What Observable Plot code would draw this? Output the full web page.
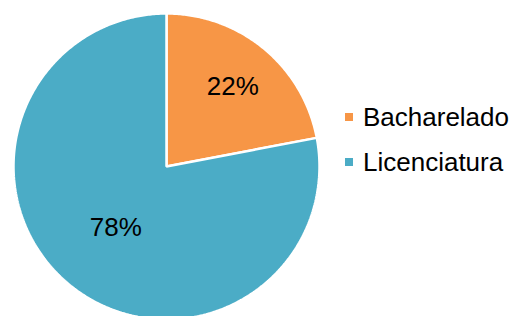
<!DOCTYPE html>
<html>
<head>
<meta charset="utf-8">
<script src="https://cdn.jsdelivr.net/npm/d3@7"></script>
<script src="https://cdn.jsdelivr.net/npm/@observablehq/plot@0.6"></script>
<style>
  html, body { margin: 0; padding: 0; background: #fff; }
  #wrap { position: relative; width: 512px; height: 316px; overflow: hidden; font-family: "Liberation Sans", Arial, sans-serif; }
  #wrap svg { position: absolute; left: 0; top: 0; }
  #legend { position: absolute; left: 345px; top: 94.5px; font-size: 26px; line-height: 45px; color: #000; white-space: nowrap; }
  #legend .sw { display: inline-block; width: 8px; height: 8px; margin-right: 10px; vertical-align: middle; position: relative; top: -2px; }
</style>
</head>
<body>
<div id="wrap"><div id="legend"></div></div>
<script>
const categories = ["Bacharelado", "Licenciatura"];
const values = [22, 78];
const labels = ["22%", "78%"];
const colors = ["#F79646", "#4BACC6"];

// layout constants (not data)
const labelRadius = [0.68, 0.52];

const pie = d3.pie().sort(null).value(d => d.value)(categories.map((c, i) => ({name: c, value: values[i], label: labels[i], idx: i})));

const slicePoints = [];
const labelPoints = [];
pie.forEach(a => {
  const n = Math.max(2, Math.ceil((a.endAngle - a.startAngle) / 0.01));
  slicePoints.push({name: a.data.name, x: 0, y: 0});
  for (let k = 0; k <= n; k++) {
    const t = a.startAngle + (a.endAngle - a.startAngle) * k / n;
    slicePoints.push({name: a.data.name, x: Math.sin(t), y: Math.cos(t)});
  }
  const m = (a.startAngle + a.endAngle) / 2;
  const r = labelRadius[a.data.idx];
  labelPoints.push({name: a.data.name, label: a.data.label, x: r * Math.sin(m), y: r * Math.cos(m)});
});

const chart = Plot.plot({
  width: 512,
  height: 316,
  marginLeft: 13,
  marginRight: 193,
  marginTop: 13,
  marginBottom: 0,
  x: {domain: [-1, 1], axis: null},
  y: {domain: [-0.98, 1], axis: null},
  color: {domain: categories, range: colors},
  style: {fontFamily: "Liberation Sans, Arial, sans-serif", background: "transparent"},
  marks: [
    Plot.line(slicePoints, {x: "x", y: "y", z: "name", fill: "name", stroke: "white", strokeWidth: 2.5, strokeLinejoin: "miter", curve: "linear-closed", clip: true}),
    Plot.text(labelPoints, {x: "x", y: "y", text: "label", fontSize: 26, fill: "black"})
  ]
});
document.getElementById("wrap").prepend(chart);

const legend = document.getElementById("legend");
categories.forEach((c, i) => {
  const row = document.createElement("div");
  const sw = document.createElement("span");
  sw.className = "sw";
  sw.style.background = colors[i];
  row.appendChild(sw);
  row.appendChild(document.createTextNode(c));
  legend.appendChild(row);
});
</script>
</body>
</html>
